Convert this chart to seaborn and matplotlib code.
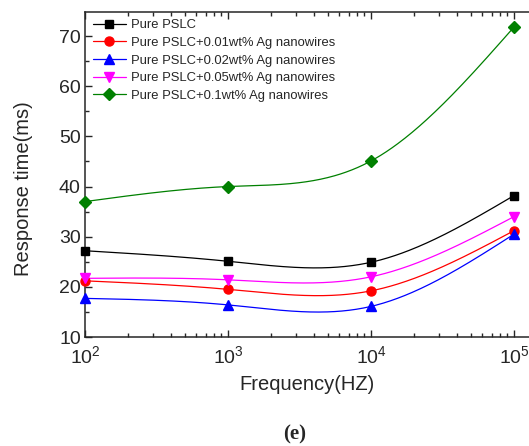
import numpy as np
import pandas as pd
import matplotlib
matplotlib.use("Agg")
import matplotlib.pyplot as plt
import seaborn as sns
from matplotlib.lines import Line2D
from matplotlib.ticker import LogLocator, MultipleLocator, LogFormatterSciNotation

# ---- data ----
frequency = [1e2, 1e3, 1e4, 1e5]
labels = ["Pure PSLC",
          "Pure PSLC+0.01wt% Ag nanowires",
          "Pure PSLC+0.02wt% Ag nanowires",
          "Pure PSLC+0.05wt% Ag nanowires",
          "Pure PSLC+0.1wt% Ag nanowires"]
pure = [27.2, 25.1, 24.9, 38.2]
ag001 = [21.2, 19.5, 19.2, 31.2]
ag002 = [17.7, 16.4, 16.1, 30.5]
ag005 = [21.7, 21.4, 22.0, 34.0]
ag01 = [37.0, 40.0, 45.1, 71.8]
series = [pure, ag001, ag002, ag005, ag01]
colors = ["#000000", "#FF0000", "#0000FF", "#FF00FF", "#008000"]
markers = ["s", "o", "^", "v", "D"]
msizes = [6, 6.5, 6.5, 6.5, 6]

sns.set_style("ticks")
plt.rcParams["font.family"] = ["Liberation Sans", "DejaVu Sans"]
plt.rcParams["mathtext.fontset"] = "custom"
plt.rcParams["mathtext.rm"] = "Liberation Sans"
plt.rcParams["mathtext.it"] = "Liberation Sans"
plt.rcParams["mathtext.default"] = "regular"


def natural_spline(x, y, xs):
    x = np.asarray(x, float); y = np.asarray(y, float)
    n = len(x)
    h = np.diff(x)
    A = np.zeros((n, n)); b = np.zeros(n)
    A[0, 0] = 1; A[-1, -1] = 1
    for i in range(1, n - 1):
        A[i, i - 1] = h[i - 1]
        A[i, i] = 2 * (h[i - 1] + h[i])
        A[i, i + 1] = h[i]
        b[i] = 6 * ((y[i + 1] - y[i]) / h[i] - (y[i] - y[i - 1]) / h[i - 1])
    M = np.linalg.solve(A, b)
    out = np.empty_like(xs)
    for k, xv in enumerate(xs):
        i = min(max(np.searchsorted(x, xv) - 1, 0), n - 2)
        t1 = x[i + 1] - xv; t0 = xv - x[i]
        out[k] = (M[i] * t1**3 + M[i + 1] * t0**3) / (6 * h[i]) \
            + (y[i] / h[i] - M[i] * h[i] / 6) * t1 \
            + (y[i + 1] / h[i] - M[i + 1] * h[i] / 6) * t0
    return out


fig = plt.figure(figsize=(5.29, 4.46), dpi=100)
ax = fig.add_axes([85 / 529, 109 / 446, 444 / 529, 325 / 446])

lx = np.log10(frequency)
for vals, c, m, ms, lab in zip(series, colors, markers, msizes, labels):
    xs = np.linspace(lx[0], lx[-1], 300)
    ys = natural_spline(lx, vals, xs)
    df_curve = pd.DataFrame({"f": 10 ** xs, "t": ys})
    sns.lineplot(data=df_curve, x="f", y="t", ax=ax, color=c, lw=0.9,
                 sort=False, estimator=None, legend=False)
    df_pts = pd.DataFrame({"f": frequency, "t": vals})
    ax.plot(df_pts["f"], df_pts["t"], linestyle="none", marker=m,
            color=c, markersize=ms, clip_on=False, zorder=5)

ax.set_xscale("log")
ax.set_xlim(1e2, 10 ** (2 + 444 / 143))
ax.set_ylim(10, 74.8)
ax.xaxis.set_major_locator(LogLocator(base=10, numticks=10))
ax.xaxis.set_minor_locator(LogLocator(base=10, subs=np.arange(2, 10), numticks=20))
ax.xaxis.set_major_formatter(LogFormatterSciNotation())
ax.yaxis.set_major_locator(MultipleLocator(10))
ax.yaxis.set_minor_locator(MultipleLocator(5))

ax.tick_params(which="both", direction="in", top=True, right=False,
               width=1.0, labelsize=14)
ax.tick_params(axis="x", which="major", length=5, pad=6)
ax.tick_params(axis="y", which="major", length=5, pad=3)
ax.tick_params(which="minor", length=3)
for s in ["left", "bottom", "top"]:
    ax.spines[s].set_linewidth(1.1)
ax.spines["right"].set_visible(False)

ax.set_xlabel("Frequency(HZ)", fontsize=14.5)
ax.set_ylabel("Response time(ms)", fontsize=14.5)
ax.xaxis.set_label_coords(0.5, -0.118)
ax.yaxis.set_label_coords(-0.117, 0.458)

handles = [Line2D([], [], color=c, marker=m, markersize=ms, lw=0.9)
           for c, m, ms in zip(colors, markers, msizes)]
ax.legend(handles, labels, loc="upper left", bbox_to_anchor=(0.018, 0.978),
          frameon=False, fontsize=9.4, handlelength=2.5, handletextpad=0.4,
          labelspacing=0.42, borderpad=0, borderaxespad=0)

fig.text(295 / 529, 12 / 446, "(e)", ha="center", va="center",
         fontsize=15, fontweight="bold", family="Liberation Serif")

fig.savefig("out.png", dpi=100)
